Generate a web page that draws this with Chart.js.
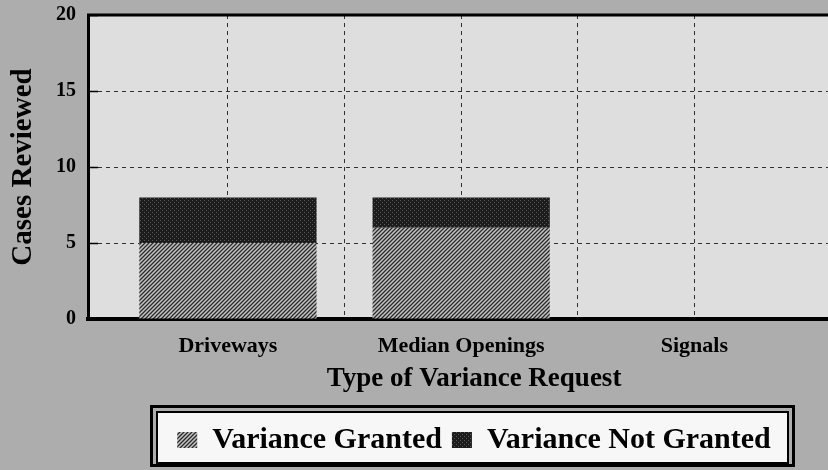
<!DOCTYPE html>
<html>
<head>
<meta charset="utf-8">
<script src="https://cdn.jsdelivr.net/npm/chart.js@4.4.1/dist/chart.umd.min.js"></script>
<style>
html, body { margin: 0; padding: 0; overflow: hidden; background: #adadad; }
#wrap { width: 828px; height: 470px; overflow: hidden; }
</style>
</head>
<body>
<div id="wrap"><canvas id="myChart" width="860" height="470"></canvas></div>
<script>
// data
var categories = ['Driveways', 'Median Openings', 'Signals'];
var categoryPos = [1, 2, 3];
var granted = [5, 6, 0];
var notGranted = [3, 2, 0];
var xGridPos = [1, 1.5, 2, 2.5, 3];
var yTicks = [0, 5, 10, 15, 20];

var serif = "'Liberation Serif', 'Times New Roman', serif";

function hatchPattern() {
    var c = document.createElement('canvas');
    c.width = 4; c.height = 4;
    var g = c.getContext('2d');
    g.fillStyle = '#c4c4c4';
    g.fillRect(0, 0, 4, 4);
    g.strokeStyle = '#2a2a2a';
    g.lineWidth = 1.3;
    g.beginPath();
    g.moveTo(0, 4); g.lineTo(4, 0);
    g.moveTo(-1, 1); g.lineTo(1, -1);
    g.moveTo(3, 5); g.lineTo(5, 3);
    g.stroke();
    return g.createPattern(c, 'repeat');
}

function darkPattern() {
    var c = document.createElement('canvas');
    c.width = 4; c.height = 4;
    var g = c.getContext('2d');
    g.fillStyle = '#1c1c1c';
    g.fillRect(0, 0, 4, 4);
    g.fillStyle = '#5a5a5a';
    g.fillRect(0, 0, 1, 1);
    g.fillRect(2, 2, 1, 1);
    return g.createPattern(c, 'repeat');
}

function points(vals) {
    return categoryPos.map(function (x, i) { return { x: x, y: vals[i] }; });
}

var background = {
    id: 'background',
    beforeDraw: function (chart) {
        var ctx = chart.ctx, a = chart.chartArea;
        ctx.save();
        ctx.fillStyle = '#adadad';
        ctx.fillRect(0, 0, chart.width, chart.height);
        ctx.fillStyle = '#dedede';
        ctx.fillRect(a.left, a.top, a.right - a.left, a.bottom - a.top);

        // legend frame
        var lg = chart.legend;
        var cx = (a.left + a.right) / 2;
        var l = cx - 324, r = cx + 321, t = lg.top - 10, b = lg.bottom + 2;
        ctx.fillStyle = '#f7f7f7';
        ctx.fillRect(l + 8, t + 8, r - l - 16, b - t - 13);
        ctx.strokeStyle = '#000';
        ctx.lineWidth = 3;
        ctx.strokeRect(l + 1.5, t + 1.5, r - l - 3, b - t - 3);
        ctx.lineWidth = 2;
        ctx.strokeRect(l + 7, t + 7, r - l - 14, b - t - 11);
        ctx.restore();
    },
    afterDatasetsDraw: function (chart) {
        var ctx = chart.ctx, a = chart.chartArea;
        var y = chart.scales.y;
        ctx.save();
        ctx.strokeStyle = '#000';
        ctx.lineWidth = 3;
        ctx.beginPath();
        ctx.moveTo(a.left - 1, a.top);
        ctx.lineTo(a.right, a.top);
        ctx.stroke();
        // short inner tick marks on the value axis
        ctx.lineWidth = 1.5;
        ctx.beginPath();
        yTicks.forEach(function (v) {
            var py = Math.round(y.getPixelForValue(v)) + 0.5;
            ctx.moveTo(a.left, py);
            ctx.lineTo(a.left + 10, py);
        });
        ctx.stroke();
        ctx.restore();
    }
};

var ctx = document.getElementById('myChart').getContext('2d');
var chart = new Chart(ctx, {
    type: 'bar',
    data: {
        datasets: [
            {
                label: 'Variance Granted',
                data: points(granted),
                backgroundColor: hatchPattern(),
                borderWidth: 0
            },
            {
                label: 'Variance Not Granted',
                data: points(notGranted),
                backgroundColor: darkPattern(),
                borderWidth: 0
            }
        ]
    },
    options: {
        responsive: false,
        animation: false,
        layout: { padding: { top: 15, bottom: 5, left: 0, right: 0 } },
        datasets: { bar: { categoryPercentage: 1, barPercentage: 1.52 } },
        plugins: {
            tooltip: { enabled: false },
            legend: {
                position: 'bottom',
                fullSize: false,
                labels: {
                    boxWidth: 20,
                    boxHeight: 16,
                    padding: 10,
                    color: '#000',
                    font: { family: serif, size: 30, weight: 'bold' }
                }
            }
        },
        scales: {
            x: {
                type: 'linear',
                stacked: true,
                offset: false,
                min: 0.4,
                max: 3.71,
                afterBuildTicks: function (scale) {
                    scale.ticks = xGridPos.map(function (v) { return { value: v }; });
                },
                afterFit: function (scale) { scale.height = 96; },
                grid: {
                    offset: false,
                    color: '#303030',
                    lineWidth: 1,
                    drawTicks: false
                },
                border: { color: '#000', width: 4, dash: [4, 4] },
                ticks: {
                    autoSkip: false,
                    maxRotation: 0,
                    padding: 14,
                    color: '#000',
                    font: { family: serif, size: 22, weight: 'bold' },
                    callback: function (value) {
                        var i = categoryPos.indexOf(value);
                        return i >= 0 ? categories[i] : '';
                    }
                },
                title: {
                    display: true,
                    text: 'Type of Variance Request',
                    color: '#000',
                    font: { family: serif, size: 27, weight: 'bold' },
                    padding: { top: 0, bottom: 20 }
                }
            },
            y: {
                stacked: true,
                min: 0,
                max: 20,
                afterBuildTicks: function (scale) {
                    scale.ticks = yTicks.map(function (v) { return { value: v }; });
                },
                afterFit: function (scale) {
                    scale.width = 88;
                    scale.paddingTop = 0;
                    scale.paddingBottom = 0;
                },
                grid: {
                    color: function (c) {
                        return (c.tick && (c.tick.value === 0 || c.tick.value === 20)) ? 'rgba(0,0,0,0)' : '#303030';
                    },
                    lineWidth: 1,
                    drawTicks: false
                },
                border: { color: '#000', width: 3, dash: [4, 4] },
                ticks: {
                    padding: 12,
                    color: '#000',
                    font: { family: serif, size: 20, weight: 'bold' }
                },
                title: {
                    display: true,
                    text: 'Cases Reviewed',
                    color: '#000',
                    font: { family: serif, size: 29, weight: 'bold' },
                    padding: { top: 6, bottom: 0 }
                }
            }
        }
    },
    plugins: [background]
});
</script>
</body>
</html>
